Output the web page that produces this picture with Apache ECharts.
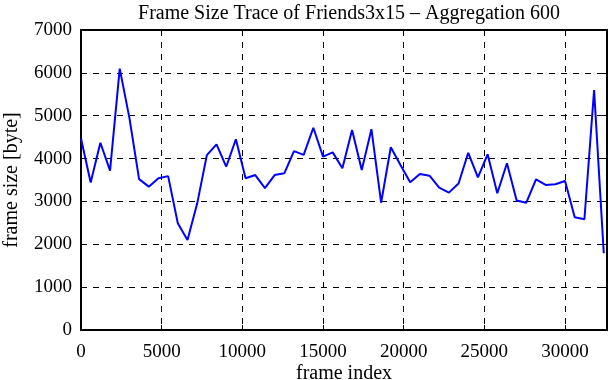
<!DOCTYPE html>
<html>
<head>
<meta charset="utf-8">
<script src="https://cdn.jsdelivr.net/npm/echarts@6/dist/echarts.min.js"></script>
<style>
  html, body { margin: 0; padding: 0; background: #fff; }
  #chart_box { width: 611px; height: 380px; }
</style>
</head>
<body>
<div id="chart_box"></div>
<script>
// frame index (step 600) and aggregated frame size in byte
var frameIndex = [
  0, 600, 1200, 1800, 2400, 3000, 3600, 4200, 4800, 5400,
  6000, 6600, 7200, 7800, 8400, 9000, 9600, 10200, 10800, 11400,
  12000, 12600, 13200, 13800, 14400, 15000, 15600, 16200, 16800, 17400,
  18000, 18600, 19200, 19800, 20400, 21000, 21600, 22200, 22800, 23400,
  24000, 24600, 25200, 25800, 26400, 27000, 27600, 28200, 28800, 29400,
  30000, 30600, 31200, 31800, 32400
];
var frameSize = [
  4470, 3440, 4370, 3720, 6100, 4950, 3520, 3345, 3540, 3590,
  2490, 2100, 2950, 4080, 4330, 3810, 4450, 3540, 3615, 3310,
  3615, 3655, 4175, 4085, 4720, 4045, 4145, 3775, 4665, 3735,
  4685, 2970, 4265, 3850, 3445, 3640, 3600, 3320, 3205, 3420,
  4135, 3560, 4100, 3190, 3890, 3020, 2970, 3515, 3385, 3400,
  3475, 2630, 2585, 5600, 1790
];
var xTicks = [0, 5000, 10000, 15000, 20000, 25000, 30000];
var yTicks = [0, 1000, 2000, 3000, 4000, 5000, 6000, 7000];

var serif = "'Liberation Serif', 'DejaVu Serif', serif";
var myChart = echarts.init(document.getElementById("chart_box"));

var points = frameIndex.map(function (x, i) { return [x, frameSize[i]]; });

var baseX = {
  type: "value",
  min: 0,
  max: 32600,
  interval: 5000,
  axisLine: { show: true, onZero: false, lineStyle: { color: "#000", width: 2 } },
  axisTick: { show: true, inside: true, length: 5, lineStyle: { color: "#000", width: 1 } }
};
var baseY = {
  type: "value",
  min: 0,
  max: 7000,
  interval: 1000,
  axisLine: { show: true, onZero: false, lineStyle: { color: "#000", width: 2 } },
  axisTick: { show: true, inside: true, length: 5, lineStyle: { color: "#000", width: 1 } }
};

var option = {
  animation: false,
  backgroundColor: "#fff",
  title: {
    text: "Frame Size Trace of Friends3x15 \u2013 Aggregation 600",
    left: 344,
    textAlign: "center",
    top: -1,
    textStyle: { fontFamily: serif, fontWeight: "normal", fontSize: 20, color: "#000" }
  },
  grid: { left: 81, right: 4, top: 30, bottom: 50, containLabel: false, outerBoundsMode: "none" },
  xAxis: [
    Object.assign({}, baseX, {
      position: "bottom",
      name: "frame index",
      nameLocation: "middle",
      nameGap: 34,
      nameMoveOverlap: false,
      nameTextStyle: { fontFamily: serif, fontSize: 20, color: "#000" },
      axisLabel: {
        fontFamily: serif, fontSize: 19, color: "#000", margin: 13,
        formatter: function (v) { return xTicks.indexOf(v) >= 0 ? String(v) : ""; }
      },
      splitLine: { show: true, lineStyle: { color: "#000", type: [6, 6], width: 1 } }
    }),
    Object.assign({}, baseX, {
      position: "top",
      axisLabel: { show: false },
      splitLine: { show: false }
    })
  ],
  yAxis: [
    Object.assign({}, baseY, {
      position: "left",
      name: "frame size [byte]",
      nameLocation: "middle",
      nameGap: 59,
      nameMoveOverlap: false,
      nameTextStyle: { fontFamily: serif, fontSize: 20, color: "#000" },
      axisLabel: {
        fontFamily: serif, fontSize: 19, color: "#000", margin: 9,
        formatter: function (v) { return yTicks.indexOf(v) >= 0 ? String(v) : ""; }
      },
      splitLine: { show: true, lineStyle: { color: "#000", type: [6, 6], width: 1 } }
    }),
    Object.assign({}, baseY, {
      position: "right",
      axisLabel: { show: false },
      splitLine: { show: false }
    })
  ],
  series: [
    {
      type: "line",
      data: points,
      xAxisIndex: 0,
      yAxisIndex: 0,
      showSymbol: false,
      lineStyle: { color: "#0000ff", width: 2 },
      itemStyle: { color: "#0000ff" }
    }
  ]
};

myChart.setOption(option);
</script>
</body>
</html>
